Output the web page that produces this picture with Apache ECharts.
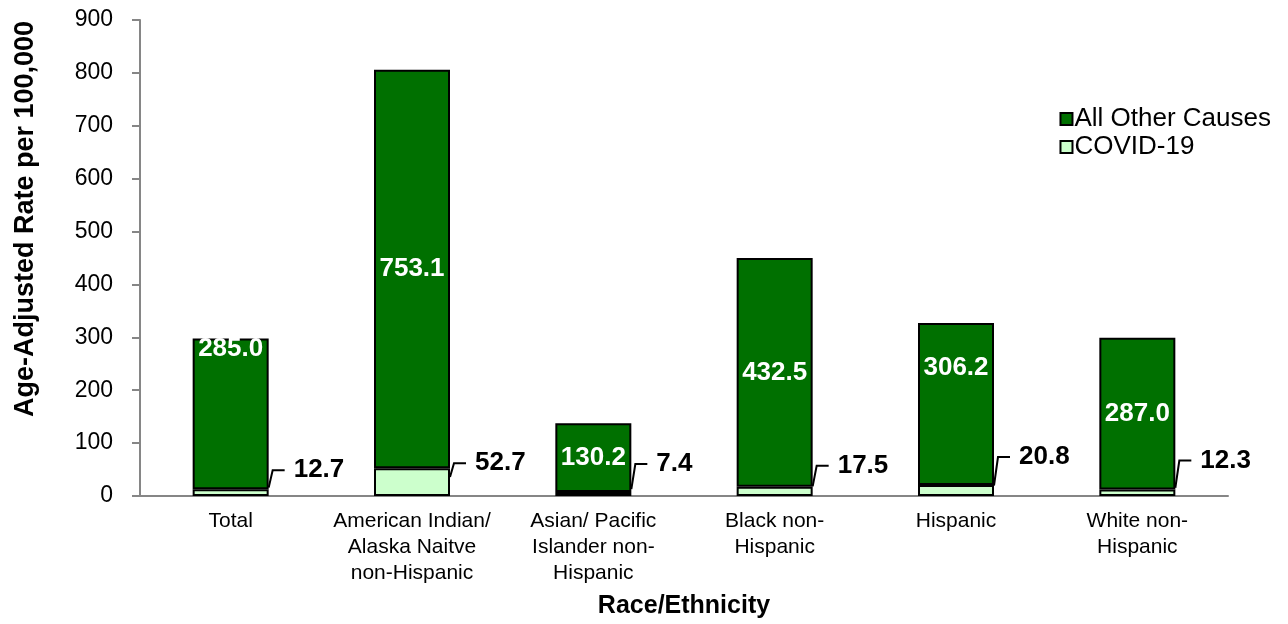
<!DOCTYPE html>
<html>
<head>
<meta charset="utf-8">
<title>Age-Adjusted Rate by Race/Ethnicity</title>
<script src="https://cdn.jsdelivr.net/npm/echarts@6/dist/echarts.min.js"></script>
<style>
  html, body { margin: 0; padding: 0; background: #fff; overflow: hidden; }
  #chart { width: 1288px; height: 624px; }
</style>
</head>
<body>
<div id="chart"></div>
<script>
// Categories and values
const categories = [
  'Total',
  'American Indian/\nAlaska Naitve\nnon-Hispanic',
  'Asian/ Pacific\nIslander non-\nHispanic',
  'Black non-\nHispanic',
  'Hispanic',
  'White non-\nHispanic'
];
const covid19 = [12.7, 52.7, 7.4, 17.5, 20.8, 12.3];
const allOtherCauses = [285.0, 753.1, 130.2, 432.5, 306.2, 287.0];
const yTicks = [0, 100, 200, 300, 400, 500, 600, 700, 800, 900];

// Layout tweaks for the value labels (pixels)
const covidLabelRise = [-19, -5, -28, -21, -28, -29];
const otherLabelShift = [-65, 0, 0, 0, -36, 0];

const FONT = '"Liberation Sans", Arial, sans-serif';
const BAR_W = 76;
const DARK = '#007000';
const LIGHT = '#CCFFCC';
const AXIS = '#868686';

const chart = echarts.init(document.getElementById('chart'));

chart.setOption({
  animation: false,
  textStyle: { fontFamily: FONT },
  grid: { left: 140, right: 60, top: 20, height: 477, containLabel: false },
  legend: {
    orient: 'vertical',
    right: 12,
    top: 100,
    icon: 'rect',
    itemWidth: 12,
    itemHeight: 12,
    itemGap: 0,
    selectedMode: false,
    data: ['All Other Causes', 'COVID-19'],
    textStyle: { fontFamily: FONT, fontSize: 26, lineHeight: 28, color: '#000', padding: [0, 0, 0, -3] }
  },
  xAxis: {
    type: 'category',
    data: categories,
    name: 'Race/Ethnicity',
    nameLocation: 'middle',
    nameGap: 98,
    nameTextStyle: { fontFamily: FONT, fontSize: 25, fontWeight: 'bold', color: '#000' },
    axisLine: { lineStyle: { color: AXIS, width: 2 } },
    axisTick: { show: false },
    axisLabel: {
      interval: 0,
      margin: 12,
      fontFamily: FONT,
      fontSize: 21,
      lineHeight: 26,
      color: '#000',
      align: 'center'
    }
  },
  yAxis: {
    type: 'value',
    min: yTicks[0],
    max: yTicks[yTicks.length - 1],
    interval: 100,
    name: 'Age-Adjusted Rate per 100,000',
    nameLocation: 'middle',
    nameRotate: 90,
    nameGap: 101,
    nameTextStyle: {
      fontFamily: FONT, fontSize: 27, fontWeight: 'bold', color: '#000',
      padding: [0, 0, 0, 78]
    },
    axisLine: { show: true, lineStyle: { color: AXIS, width: 2 } },
    axisTick: { show: true, inside: false, length: 8, lineStyle: { color: AXIS, width: 2 } },
    splitLine: { show: false },
    axisLabel: { fontFamily: FONT, fontSize: 23, color: '#000', margin: 27 }
  },
  series: [
    {
      name: 'COVID-19',
      type: 'bar',
      stack: 'rate',
      barWidth: BAR_W,
      data: covid19,
      itemStyle: { color: LIGHT, borderColor: '#000', borderWidth: 2 },
      z: 2
    },
    {
      name: 'All Other Causes',
      type: 'bar',
      stack: 'rate',
      barWidth: BAR_W,
      data: allOtherCauses.map((v, i) => ({
        value: v,
        label: { offset: [0, otherLabelShift[i]] }
      })),
      itemStyle: { color: DARK, borderColor: '#000', borderWidth: 2 },
      label: {
        show: true,
        position: 'inside',
        fontFamily: FONT,
        fontSize: 26,
        fontWeight: 'bold',
        color: '#fff',
        formatter: p => p.value.toFixed(1)
      },
      z: 2
    },
    {
      // COVID-19 value labels with short leader lines
      name: 'covidLabels',
      type: 'custom',
      data: covid19.map((v, i) => [i, v]),
      z: 5,
      silent: true,
      renderItem: function (params, api) {
        const i = params.dataIndex;
        const cat = api.value(0);
        const val = api.value(1);
        const top = api.coord([cat, val]);
        const mid = api.coord([cat, val / 2]);
        const right = top[0] + BAR_W / 2;
        const startY = mid[1] - 5;
        const labelY = top[1] + covidLabelRise[i];
        return {
          type: 'group',
          children: [
            {
              type: 'polyline',
              shape: { points: [[right, startY], [right + 4, labelY], [right + 16, labelY]] },
              style: { stroke: '#000', lineWidth: 2, fill: null }
            },
            {
              type: 'text',
              style: {
                x: right + 25,
                y: labelY,
                text: val.toFixed(1),
                fill: '#000',
                font: 'bold 26px ' + FONT,
                textAlign: 'left',
                textVerticalAlign: 'middle'
              }
            }
          ]
        };
      }
    }
  ]
});
</script>
</body>
</html>
